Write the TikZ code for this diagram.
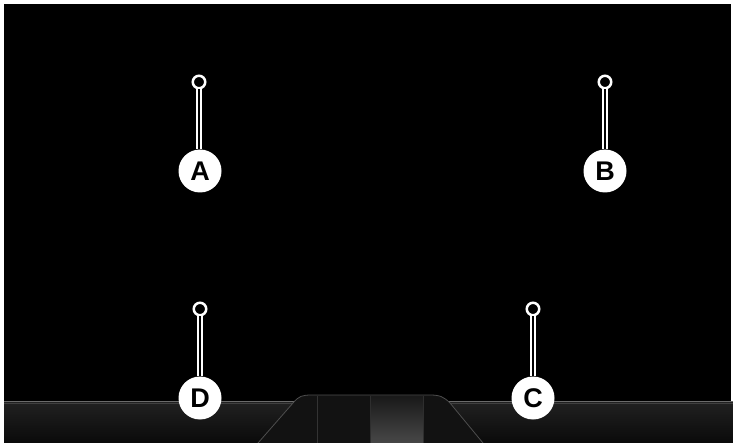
\documentclass[tikz,border=0pt]{standalone}
\usepackage{fontspec}
\newfontfamily\labfont{Liberation Sans}
\begin{document}
\begin{tikzpicture}[x=1pt,y=-1pt,
  ring/.style={circle,draw=white,line width=2.5pt,fill=black,minimum size=12.5pt,inner sep=0pt},
  badge/.style={circle,fill=white,minimum size=43pt,inner sep=0pt,text=black,font=\labfont\bfseries\fontsize{27}{27}\selectfont},
  stem/.style={draw=white,line width=2.2pt,double=black,double distance=2.2pt},
  edgeline/.style={draw=bandline,line width=0.8pt}]
\definecolor{bandline}{HTML}{4E4E4E}
\useasboundingbox (0,0) rectangle (733,443);
% white frame and black background
\fill[white] (0,0) rectangle (733,443);
\fill[black] (4,4) rectangle (730.5,443);
% dashboard band
\shade[top color=black!87,bottom color=black!96] (4,401) rectangle (733,443);
\draw[color=black!58,line width=1.5pt] (4,401.5) -- (733,401.5);
\draw[color=black!75,line width=1pt] (4,403.5) -- (733,403.5);
% centre console
\path[fill=black!93] (258,443) -- (293,403) .. controls (299,396) and (302,395) .. (312,395)
  -- (430,395) .. controls (440,395) and (444,397) .. (450,403) -- (483,443) -- cycle;
\shade[top color=black!90,bottom color=black!72] (370,396) rectangle (423,443);
\draw[edgeline] (258,443) -- (293,403) .. controls (299,396) and (302,395) .. (312,395)
  -- (430,395) .. controls (440,395) and (444,397) .. (450,403) -- (483,443);
\draw[color=black!80,line width=0.8pt] (317,396) -- (317,443);
\draw[color=black!82,line width=0.8pt] (370,396) -- (370,443);
\draw[color=black!82,line width=0.8pt] (423,396) -- (423,443);
% pins
\node[ring] (ra) at (199,82) {};
\node[badge] (la) at (200,171) {A};
\node[ring] (rb) at (605,82) {};
\node[badge] (lb) at (605,171) {B};
\node[ring] (rd) at (200,309) {};
\node[badge] (ld) at (200,398) {D};
\node[ring] (rc) at (533,309) {};
\node[badge] (lc) at (533,398) {C};
\draw[stem] (ra.south) -- (ra.south |- la.north);
\draw[stem] (rb.south) -- (rb.south |- lb.north);
\draw[stem] (rd.south) -- (rd.south |- ld.north);
\draw[stem] (rc.south) -- (rc.south |- lc.north);
\end{tikzpicture}
\end{document}
